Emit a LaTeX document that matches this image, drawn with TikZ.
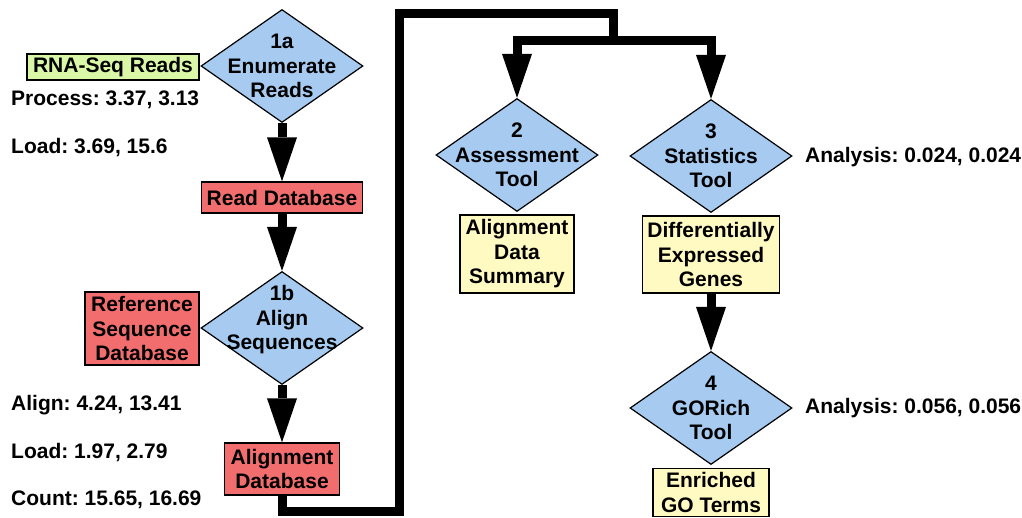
\documentclass[tikz,border=0pt]{standalone}
\usepackage{fontspec}
\setmainfont{Liberation Sans}
\usetikzlibrary{shapes.geometric,arrows.meta,backgrounds}
\definecolor{stepblue}{RGB}{166,202,240}
\definecolor{dbred}{RGB}{242,110,110}
\definecolor{inputgreen}{RGB}{217,247,166}
\definecolor{outyellow}{RGB}{255,249,194}
\frenchspacing
\begin{document}
\begin{tikzpicture}[x=1pt,y=-1pt,
  every node/.style={font=\fontsize{21}{24.5}\selectfont\bfseries},
  box/.style={draw=black, line width=1.3pt, inner sep=0pt, align=center},
  dia/.style={diamond, draw=black, line width=1.2pt, fill=stepblue, inner sep=0pt,
              minimum width=162pt, minimum height=113pt},
  dtext/.style={align=center, inner sep=0pt},
  flow/.style={line width=9pt, -{Triangle[width=30pt,length=44pt,line width=0pt]}},
  loopline/.style={line width=9pt, line cap=rect},
  stat/.style={anchor=west, inner sep=0pt}]
\useasboundingbox (0,0) rectangle (1022,518);

% --- step 1: enumerate and align ---
\node[dia] (d1a) at (282,66) {};
\node[dtext] (t1a) at (d1a) {1a\\Enumerate\\Reads};
\node[box, fill=inputgreen, minimum width=172pt, minimum height=26pt] (rna) at (113,67) {RNA-Seq Reads};
\node[box, fill=dbred, minimum width=161pt, minimum height=31pt] (readdb) at (282,197.5) {Read Database};
\node[dia] (d1b) at (282,328) {};
\node[dtext] (t1b) at ([yshift=8pt]d1b.center) {1b\\Align\\Sequences};
\node[box, fill=dbred, minimum width=114pt, minimum height=73pt] (refdb) at (142,328.5) {Reference\\Sequence\\Database};
\node[box, fill=dbred, minimum width=115pt, minimum height=52pt] (aligndb) at (282,469) {Alignment\\Database};

% --- steps 2-4: assessment, statistics, enrichment ---
\node[dia] (d2) at (517,155) {};
\node[dtext] (t2) at (d2) {2\\Assessment\\Tool};
\node[box, fill=outyellow, minimum width=114pt, minimum height=78pt] (ads) at (517,254) {Alignment\\Data\\Summary};
\node[dia] (d3) at (711,156) {};
\node[dtext] (t3) at (d3) {3\\Statistics\\Tool};
\node[box, fill=outyellow, minimum width=137pt, minimum height=77pt] (deg) at (711,254.5) {Differentially\\Expressed\\Genes};
\node[dia] (d4) at (711,408) {};
\node[dtext] (t4) at (d4) {4\\GORich\\Tool};
\node[box, fill=outyellow, minimum width=116pt, minimum height=48pt] (ego) at (711,492.5) {Enriched\\GO Terms};

% --- timing annotations ---
\node[stat] (s1) at (11,100) {Process: 3.37, 3.13};
\node[stat] (s2) at (11,148) {Load: 3.69, 15.6};
\node[stat] (s3) at (11,405) {Align: 4.24, 13.41};
\node[stat] (s4) at (11,453) {Load: 1.97, 2.79};
\node[stat] (s5) at (11,500) {Count: 15.65, 16.69};
\node[stat] (s6) at (805,157) {Analysis: 0.024, 0.024};
\node[stat] (s7) at (805,408) {Analysis: 0.056, 0.056};

% --- connectors ---
\coordinate (bendA) at (399,511);
\coordinate (bendB) at (399,14);
\coordinate (bendC) at (613,14);
\coordinate (split) at (613,41);
\begin{scope}[on background layer]
  \draw[flow] (d1a.south) -- (readdb.north);
  \draw[flow] (readdb.south) -- (d1b.north);
  \draw[flow] (d1b.south) -- (aligndb.north);
  \draw[loopline] (aligndb.south) |- (bendA) -- (bendB) -- (bendC) -- (split);
  \draw[flow] (split) -| (d2.north);
  \draw[flow] (split) -| (d3.north);
  \draw[flow] (deg.south) -- (d4.north);
\end{scope}
\end{tikzpicture}
\end{document}
